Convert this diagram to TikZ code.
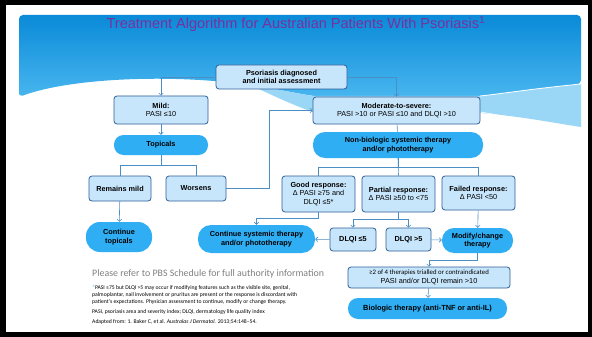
\documentclass[tikz,border=0pt]{standalone}
\usepackage{fontspec}
\setmainfont{Liberation Sans}
\newfontfamily\notefont{Carlito}
\usetikzlibrary{positioning}
\usetikzlibrary{arrows.meta}
\definecolor{titlepurple}{HTML}{7B2F9E}
\definecolor{bandtop}{HTML}{0A8AD8}
\definecolor{bandbottom}{HTML}{48B6EF}
\definecolor{bandlight}{HTML}{9AD7F7}
\definecolor{boxfill}{HTML}{C8E6FB}
\definecolor{boxline}{HTML}{2F5F97}
\definecolor{pillblue}{HTML}{2FAEF4}
\definecolor{linkblue}{HTML}{4A8EC4}
\definecolor{notegray}{HTML}{808080}
\definecolor{starcyan}{HTML}{33BBDD}

\begin{document}
\begin{tikzpicture}[x=1pt, y=-1pt,
                    lbox/.style={draw=boxline, fill=boxfill, line width=0.8pt, rounded corners=3pt,
                                 align=center, inner sep=0pt, font=\fontsize{7.3}{8.6}\selectfont},
                    pill/.style={fill=pillblue, rounded corners=10pt, align=center, inner sep=0pt,
                                 font=\fontsize{7.3}{8.6}\selectfont\bfseries},
                    link/.style={draw=linkblue, line width=0.6pt},
                    arrow/.style={link, -{Straight Barb[length=2.2pt,width=4.5pt]}},
                    note/.style={anchor=base west, inner sep=0pt, font=\notefont\fontsize{5.7}{6.5}\selectfont}]

    \fill[black] (0,0) rectangle (592,337);
    \fill[white] (6,5) rectangle (588,332);
    \shade[top color=bandtop, bottom color=bandbottom, rounded corners=4pt]
        (19,97) -- (19,15) -- (581,15) -- (581,84) .. controls (530,89) and (500,94) .. (480,96)
        -- (313,96) .. controls (290,92) and (270,88) .. (250,85)
        .. controls (170,74) and (70,78) .. (19,97) -- cycle;
    \fill[bandlight] (250,85) .. controls (270,88) and (290,92) .. (313,96) -- (480,96)
        .. controls (500,94) and (530,89) .. (581,84) -- (581,127)
        .. controls (560,124) and (520,116) .. (480,113) -- (313,112)
        .. controls (290,104) and (270,94) .. (250,85) -- cycle;
    \draw[white, line width=0.8pt] (480,96) .. controls (500,94) and (530,89) .. (581,84);
    \draw[white, line width=0.6pt] (480,112) .. controls (500,115) and (520,119) .. (540,123);

    \node[font=\fontsize{14.5}{16}\selectfont, text=titlepurple] (title) at (296,24)
        {Treatment Algorithm for Australian Patients With Psoriasis\textsuperscript{1}};

    \node[lbox, font=\fontsize{7.3}{8.6}\selectfont\bfseries, minimum width=131, minimum height=24]
        (diag) at (281.5,77) {Psoriasis diagnosed\\and initial assessment};
    \node[lbox, minimum width=94, minimum height=28] (mild) at (161,110) {\textbf{Mild:}\\PASI ≤10};
    \node[lbox, minimum width=167, minimum height=27] (severe) at (396.5,110.5)
        {\textbf{Moderate-to-severe:}\\PASI >10 or PASI ≤10 and DLQI >10};
    \node[pill, minimum width=94, minimum height=20, rounded corners=9.5pt] (topicals) at (161,145) {Topicals};
    \node[pill, minimum width=170, minimum height=26, rounded corners=12pt] (systemic) at (398,145)
        {Non-biologic systemic therapy\\and/or phototherapy};
    \node[lbox, font=\fontsize{7.3}{8.6}\selectfont\bfseries, minimum width=62, minimum height=25]
        (remains) at (120,188.5) {Remains mild};
    \node[lbox, font=\fontsize{7.3}{8.6}\selectfont\bfseries, minimum width=60, minimum height=25]
        (worsens) at (196,188.5) {Worsens};
    \node[lbox, minimum width=73, minimum height=36] (good) at (318.5,194)
        {\textbf{Good response:}\\Δ PASI ≥75 and\\DLQI ≤5*};
    \node[lbox, minimum width=73, minimum height=36] (partial) at (398.5,194)
        {\textbf{Partial response:}\\Δ PASI ≥50 to <75};
    \node[lbox, minimum width=73, minimum height=34] (failed) at (478.5,193)
        {\textbf{Failed response:}\\Δ PASI <50};
    \node[pill, minimum width=66, minimum height=30, rounded corners=14pt] (contopic) at (119,237)
        {Continue\\topicals};
    \node[pill, minimum width=117, minimum height=28, rounded corners=13pt] (consys) at (256.5,239)
        {Continue systemic therapy\\and/or phototherapy};
    \node[lbox, font=\fontsize{7.3}{8.6}\selectfont\bfseries, minimum width=46, minimum height=23]
        (dlqilow) at (353,239.5) {DLQI ≤5};
    \node[lbox, font=\fontsize{7.3}{8.6}\selectfont\bfseries, minimum width=45, minimum height=23]
        (dlqihigh) at (408.5,239.5) {DLQI >5};
    \node[pill, minimum width=71, minimum height=25, rounded corners=12pt] (modify) at (477.5,240.5)
        {Modify/change\\therapy};
    \node[lbox, minimum width=162, minimum height=21] (trialled) at (429,277.5)
        {{\notefont\fontsize{6.8}{7.5}\selectfont ≥2 of 4 therapies trialled or contraindicated}\\PASI and/or DLQI remain >10};
    \node[pill, font=\fontsize{7.4}{8.6}\selectfont\bfseries, minimum width=159, minimum height=21,
          rounded corners=10pt] (biologic) at (427.5,308.5) {Biologic therapy (anti-TNF or anti-IL)};

    \draw[arrow] (diag.west) -| (mild.north);
    \draw[arrow] (diag.east) -| (severe.north);
    \draw[arrow] (mild) -- (topicals);
    \draw[link] (severe) -- (systemic);
    \draw[link] (topicals.south) -- ++(0,10) -| (remains.north);
    \draw[link] (topicals.south) -- ++(0,10) -| (worsens.north);
    \draw[arrow] (worsens.east) -- ++(43,0) |- (severe.west);
    \draw[arrow] (remains) -- (contopic);
    \draw[link] (systemic.south) -- ++(0,9) -| (good.north);
    \draw[link] (systemic.south) -- (partial.north);
    \draw[link] (systemic.south) -- ++(0,9) -| (failed.north);
    \draw[arrow] (good.south) -- ++(0,6) -| (consys.north);
    \draw[arrow] (partial.south) -- ++(0,7) -| (dlqilow.north);
    \draw[arrow] (partial.south) -- ++(0,7) -| (dlqihigh.north);
    \draw[arrow] (dlqilow) -- (consys);
    \draw[arrow] (dlqihigh) -- (modify);
    \draw[arrow] (failed) -- (modify);
    \draw[arrow] (modify.south) -- ++(0,7) -| (trialled.north);
    \draw[arrow] (trialled) -- (biologic);

    \node[anchor=base west, inner sep=0pt, text=notegray, font=\notefont\fontsize{9.9}{11}\selectfont]
        (pbs) at (92,276) {Please refer to PBS Schedule for full authority information};
    \node[note] (star1) at (92,289) {\textcolor{starcyan}{*}PASI ≥75 but DLQI >5 may occur if modifying features such as the visible site, genital,};
    \node[note] (star2) at (92,296) {palmoplantar, nail involvement or pruritus are present or the response is discordant with};
    \node[note] (star3) at (92,303) {patient’s expectations. Physician assessment to continue, modify or change therapy.};
    \node[note] (abbrev) at (92,313) {PASI, psoriasis area and severity index; DLQI, dermatology life quality index};
    \node[note] (source) at (92,323) {Adapted from: 1. Baker C, et al. \textit{Australas J Dermatol.} 2013;54:148–54.};

\end{tikzpicture}
\end{document}
